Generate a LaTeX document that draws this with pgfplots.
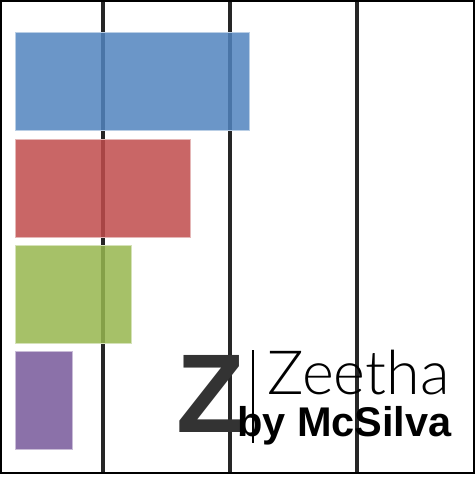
\documentclass[border=0pt]{standalone}
\usepackage{pgfplots}
\pgfplotsset{compat=1.18}
\usetikzlibrary{calc}
\usepackage{fontspec}
\setmainfont{Liberation Sans}
\newfontfamily\zfont{Lato}[UprightFont={* Light}]
\definecolor{cblue}{RGB}{81,132,190}
\definecolor{cred}{RGB}{191,75,75}
\definecolor{cgreen}{RGB}{150,182,78}
\definecolor{cpurple}{RGB}{119,88,154}
\definecolor{gridc}{RGB}{38,38,38}
\begin{document}
\begin{tikzpicture}
\begin{axis}[
  scale only axis,
  width=473bp, height=472bp,
  xmin=-14, xmax=459, ymin=0, ymax=472,
  xtick={88,215,342}, ytick=\empty,
  xticklabels={}, 
  major tick length=0pt,
  xmajorgrids,
  grid style={gridc, line width=4bp},
  axis line style={black, line width=2bp},
  xbar, bar shift=0pt, bar width=98,
  clip=false,
]
\addplot[fill=cblue, fill opacity=0.85, draw=cblue!40!white, line width=0.8bp] coordinates {(234,392)};
\addplot[fill=cred, fill opacity=0.85, draw=cred!40!white, line width=0.8bp] coordinates {(175,285)};
\addplot[fill=cgreen, fill opacity=0.85, draw=cgreen!40!white, line width=0.8bp] coordinates {(116,179)};
\addplot[fill=cpurple, fill opacity=0.85, draw=cpurple!40!white, line width=0.8bp] coordinates {(57,73)};
\node[anchor=base west, inner sep=0pt, font=\fontsize{112bp}{112bp}\selectfont\bfseries, text=black!80] at (axis cs:161,40) {Z};
\draw[black, line width=1.2bp] (axis cs:238,30) -- (axis cs:238,123);
\node[anchor=base west, inner sep=0pt, font=\zfont\fontsize{61bp}{61bp}\selectfont] at (axis cs:252,78) {Zeetha};
\node[anchor=base west, inner sep=0pt, font=\fontsize{41.5bp}{41.5bp}\selectfont\bfseries] at (axis cs:222,36) {by McSilva};
\end{axis}
\pgfresetboundingbox
\path[use as bounding box] ($(current axis.south west)+(-1bp,-7bp)$) rectangle ($(current axis.north east)+(1bp,1bp)$);
\end{tikzpicture}
\end{document}
